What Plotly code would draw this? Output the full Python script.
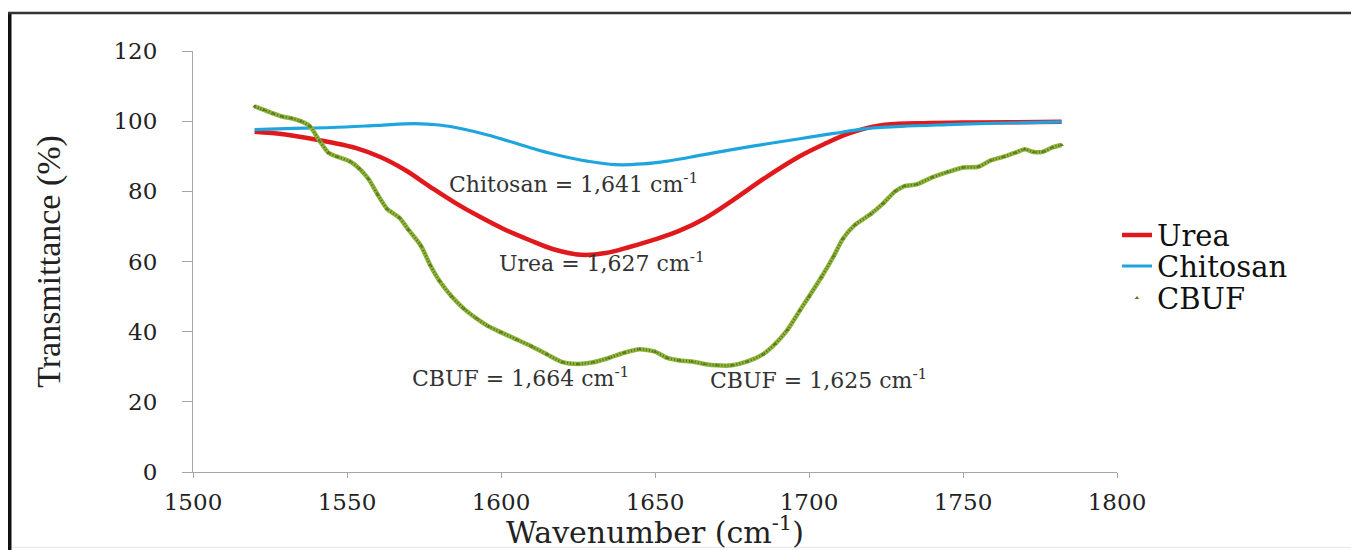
import plotly.graph_objects as go

# ---------------- data ----------------
urea_x = [1520, 1530, 1545, 1553, 1561, 1569, 1577, 1585, 1593, 1601, 1609, 1617,
          1626, 1634, 1642, 1650, 1658, 1666, 1675, 1686, 1697, 1705, 1713, 1723,
          1735, 1750, 1765, 1782]
urea_y = [97.0, 96.2, 93.9, 92.3, 89.7, 86.0, 81.3, 76.8, 72.8, 69.2, 66.2, 63.5,
          61.9, 62.4, 64.2, 66.3, 68.8, 72.2, 77.3, 84.0, 90.0, 93.5, 96.5, 98.8,
          99.4, 99.6, 99.7, 99.8]

chitosan_x = [1520, 1530, 1545, 1560, 1572, 1580, 1588, 1596, 1604, 1612, 1620, 1628,
              1637, 1646, 1654, 1665, 1675, 1686, 1697, 1708, 1718, 1730, 1745, 1760,
              1782]
chitosan_y = [97.6, 97.9, 98.2, 98.8, 99.3, 98.9, 97.7, 96.0, 93.9, 91.8, 90.0, 88.6,
              87.6, 87.8, 88.6, 90.3, 91.9, 93.5, 95.0, 96.5, 97.8, 98.5, 99.0, 99.4,
              99.8]

cbuf_x = [1520, 1523, 1526, 1529, 1532, 1535, 1538, 1541, 1544, 1547, 1551, 1554,
          1557, 1560, 1563, 1567, 1570, 1574, 1577, 1580, 1584, 1588, 1592, 1596,
          1600, 1605, 1610, 1615, 1620, 1625, 1630, 1635, 1640, 1645, 1650, 1654,
          1658, 1662, 1666, 1670, 1675, 1680, 1685, 1689, 1693, 1697, 1700, 1704,
          1708, 1711, 1715, 1720, 1724, 1728, 1731, 1735, 1740, 1745, 1750, 1755,
          1759, 1763, 1767, 1770, 1773, 1776, 1779, 1782]
cbuf_y = [104.2, 103.2, 102.2, 101.3, 100.8, 100.0, 98.5, 94.5, 91.0, 89.8, 88.5, 86.5,
          83.5, 79.0, 75.0, 72.5, 69.0, 64.5, 59.0, 54.5, 50.0, 46.5, 43.8, 41.5,
          39.8, 37.8, 35.8, 33.5, 31.3, 30.8, 31.3, 32.5, 34.0, 35.0, 34.3, 32.5,
          31.8, 31.5, 30.8, 30.4, 30.4, 31.5, 33.5, 36.5, 40.5, 46.0, 50.0, 55.5,
          61.5, 66.5, 70.5, 73.5, 76.5, 80.0, 81.5, 82.0, 84.0, 85.5, 86.8, 87.0,
          88.8, 89.8, 91.0, 92.0, 91.2, 91.3, 92.5, 93.2]

x_ticks = [1500, 1550, 1600, 1650, 1700, 1750, 1800]
y_ticks = [0, 20, 40, 60, 80, 100, 120]

peak_labels = ["Chitosan = 1,641 cm<sup>-1</sup>",
               "Urea = 1,627 cm<sup>-1</sup>",
               "CBUF = 1,664 cm<sup>-1</sup>",
               "CBUF = 1,625 cm<sup>-1</sup>"]
peak_label_x = [1582.5, 1598.7, 1570.5, 1667.2]
peak_label_y = [82.4, 59.9, 27.0, 26.5]

# ---------------- figure ----------------
# the page body has an 8px margin; the figure is sized so that it fills the window
OFF = 8
W, H = 1359 - OFF, 550 - OFF
PL, PR, PT, PB = 193, 1117, 51, 471.7          # plot-area edges in page pixels
ML, MR, MT, MB = PL - OFF, (W + OFF) - PR, PT - OFF, (H + OFF) - PB
SERIF = "DejaVu Serif"

pw = W - ML - MR
ph = H - MT - MB


def px(xp):
    return (xp - OFF - ML) / pw


def py(yp):
    return (H - MB - (yp - OFF)) / ph


fig = go.Figure()

fig.add_trace(go.Scatter(x=urea_x, y=urea_y, name="Urea", mode="lines", legend="legend",
                         line=dict(color="#e0191c", width=4.5, shape="spline", smoothing=1.0)))
fig.add_trace(go.Scatter(x=chitosan_x, y=chitosan_y, name="Chitosan", mode="lines",
                         legend="legend2",
                         line=dict(color="#1fa5de", width=3.2, shape="spline", smoothing=1.0)))
fig.add_trace(go.Scatter(x=cbuf_x, y=cbuf_y, name="CBUF", mode="lines", showlegend=False,
                         legendgroup="cbuf", legend="legend3",
                         line=dict(color="#8fb53d", width=4.5, shape="spline", smoothing=0.6)))
fig.add_trace(go.Scatter(x=cbuf_x, y=cbuf_y, name="CBUF", mode="lines", showlegend=False,
                         legendgroup="cbuf", legend="legend3",
                         line=dict(color="#55721c", width=2.5, dash="1px,2px",
                                   shape="spline", smoothing=0.6)))
fig.add_trace(go.Scatter(x=cbuf_x, y=cbuf_y, name="CBUF", mode="markers",
                         legendgroup="cbuf", legend="legend3",
                         marker=dict(symbol="triangle-up", size=4, color="#5d7a22")))

for txt, ax, ay in zip(peak_labels, peak_label_x, peak_label_y):
    fig.add_annotation(x=ax, y=ay, text=txt, showarrow=False, xanchor="left",
                       yanchor="middle", font=dict(family=SERIF, size=22, color="#333333"))

# figure frame (black border, left and top, faint bottom)
fig.add_shape(type="line", xref="paper", yref="paper", x0=px(9.5), x1=px(9.5),
              y0=py(12), y1=py(550), line=dict(color="#111111", width=4))
fig.add_shape(type="line", xref="paper", yref="paper", x0=px(8), x1=px(1359),
              y0=py(13), y1=py(13), line=dict(color="#333333", width=2.5))
fig.add_shape(type="line", xref="paper", yref="paper", x0=px(12), x1=px(1359),
              y0=py(547), y1=py(547), line=dict(color="#e6e6e6", width=1))

legend_font = dict(family=SERIF, size=29, color="#111111")
leg_common = dict(xanchor="left", yanchor="middle", font=legend_font, itemwidth=30,
                  bgcolor="rgba(0,0,0,0)")

fig.update_layout(
    width=W, height=H,
    margin=dict(l=ML, r=MR, t=MT, b=MB, autoexpand=False),
    paper_bgcolor="white", plot_bgcolor="white",
    showlegend=True,
    legend=dict(x=px(1117), y=py(235), **leg_common),
    legend2=dict(x=px(1117), y=py(266), **leg_common),
    legend3=dict(x=px(1117), y=py(298), **leg_common),
    xaxis=dict(range=[1500, 1800], tickvals=x_ticks, ticktext=[str(v) for v in x_ticks],
               showgrid=False, zeroline=False, showline=True, linecolor="#a6a6a6",
               linewidth=1, ticks="outside", ticklen=5, tickcolor="#a6a6a6",
               ticklabelstandoff=4,
               tickfont=dict(family=SERIF, size=23, color="#222222"),
               title=dict(text="Wavenumber (cm<sup>-1</sup>)", standoff=17,
                          font=dict(family=SERIF, size=30, color="#222222"))),
    yaxis=dict(range=[0, 120], tickvals=y_ticks, ticktext=[str(v) for v in y_ticks],
               showgrid=False, zeroline=False, showline=True, linecolor="#a6a6a6",
               linewidth=1, ticks="outside", ticklen=10, tickcolor="#a6a6a6",
               ticklabelstandoff=20,
               tickfont=dict(family=SERIF, size=23, color="#222222"),
               title=dict(text="Transmittance (%)", standoff=42,
                          font=dict(family="Liberation Serif", size=34, color="#222222"))),
)

fig.write_html("out.html")
